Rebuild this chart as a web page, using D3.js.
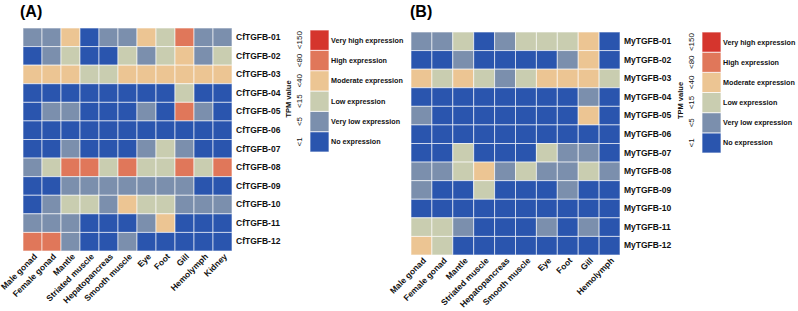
<!DOCTYPE html>
<html>
<head>
<meta charset="utf-8">
<script src="https://cdn.jsdelivr.net/npm/d3@7"></script>
<style>
  body { margin: 0; background: #fff; }
  svg { font-family: "Liberation Sans", Arial, sans-serif; }
</style>
</head>
<body>
<svg id="chart" width="798" height="311"></svg>
<script>
// tissues (columns)
const tissuesA = ["Male gonad", "Female gonad", "Mantle", "Striated muscle", "Hepatopancreas",
  "Smooth muscle", "Eye", "Foot", "Gill", "Hemolymph", "Kidney"];
const tissuesB = ["Male gonad", "Female gonad", "Mantle", "Striated muscle", "Hepatopancreas",
  "Smooth muscle", "Eye", "Foot", "Gill", "Hemolymph"];

// genes (rows)
const genesA = ["CfTGFB-01", "CfTGFB-02", "CfTGFB-03", "CfTGFB-04", "CfTGFB-05", "CfTGFB-06",
  "CfTGFB-07", "CfTGFB-08", "CfTGFB-09", "CfTGFB-10", "CfTGFB-11", "CfTGFB-12"];
const genesB = ["MyTGFB-01", "MyTGFB-02", "MyTGFB-03", "MyTGFB-04", "MyTGFB-05", "MyTGFB-06",
  "MyTGFB-07", "MyTGFB-08", "MyTGFB-09", "MyTGFB-10", "MyTGFB-11", "MyTGFB-12"];

// expression class per cell: 0 = no ... 5 = very high
const levelsA = [
  [1, 1, 3, 0, 1, 1, 3, 2, 4, 1, 1],
  [0, 1, 2, 0, 0, 2, 1, 2, 3, 1, 2],
  [3, 3, 3, 2, 2, 3, 3, 3, 3, 3, 3],
  [0, 0, 0, 0, 0, 0, 0, 0, 2, 0, 0],
  [0, 1, 1, 0, 0, 0, 1, 0, 4, 1, 0],
  [0, 0, 0, 0, 0, 0, 0, 0, 0, 0, 0],
  [0, 0, 1, 0, 0, 0, 1, 2, 1, 0, 0],
  [1, 2, 4, 4, 2, 4, 2, 2, 4, 2, 4],
  [0, 0, 1, 1, 1, 1, 1, 1, 1, 0, 0],
  [0, 1, 2, 2, 1, 3, 2, 2, 1, 1, 1],
  [1, 1, 1, 0, 0, 0, 1, 3, 0, 0, 0],
  [4, 4, 1, 0, 0, 1, 0, 0, 0, 0, 0]
];
const levelsB = [
  [1, 1, 2, 0, 1, 2, 2, 2, 3, 0],
  [0, 0, 1, 0, 0, 0, 0, 1, 3, 0],
  [3, 2, 3, 2, 1, 2, 3, 3, 3, 2],
  [0, 0, 0, 0, 0, 0, 0, 0, 1, 0],
  [1, 0, 0, 0, 0, 0, 0, 0, 3, 0],
  [0, 0, 0, 0, 0, 0, 0, 0, 0, 0],
  [0, 0, 2, 0, 0, 0, 2, 1, 1, 0],
  [1, 1, 2, 3, 1, 2, 1, 1, 2, 1],
  [1, 0, 0, 2, 0, 0, 0, 1, 0, 0],
  [0, 0, 0, 0, 0, 0, 0, 0, 0, 0],
  [2, 2, 1, 0, 0, 0, 1, 0, 1, 0],
  [3, 2, 0, 0, 0, 0, 0, 0, 0, 0]
];

// legend
const levelNames = ["No expression", "Very low expression", "Low expression",
  "Moderate expression", "High expression", "Very high expression"];
const tpmTicks = ["<1", "<5", "<15", "<40", "<80", "<150"];
const levelColors = ["#2a55ae", "#7b8fad", "#c9cdb0", "#ecc593", "#e0775a", "#d5352d"];

const svg = d3.select("#chart");
const color = d3.scaleOrdinal().domain(d3.range(6)).range(levelColors);

function drawPanel(opts) {
  let g = svg.append("g");

  let x = d3.scaleBand().domain(opts.cols).range([opts.x0, opts.x1]);
  let y = d3.scaleBand().domain(opts.rows).range([opts.y0, opts.y1]);

  // panel letter
  g.append("text")
    .attr("x", opts.titleX)
    .attr("y", 17)
    .attr("font-size", 16)
    .attr("font-weight", "bold")
    .text(opts.title);

  // cells
  let cells = [];
  opts.levels.forEach((row, i) => {
    row.forEach((v, j) => cells.push({ gene: opts.rows[i], tissue: opts.cols[j], v: v }));
  });
  g.selectAll("rect.cell")
    .data(cells)
    .enter()
    .append("rect")
    .attr("class", "cell")
    .attr("x", d => x(d.tissue))
    .attr("y", d => y(d.gene))
    .attr("width", x.bandwidth())
    .attr("height", y.bandwidth())
    .attr("fill", d => color(d.v))
    .attr("stroke", "rgba(255,255,255,0.6)")
    .attr("stroke-width", 1);

  // row labels
  let rowAxis = g.append("g")
    .attr("transform", `translate(${opts.x1},0)`)
    .call(d3.axisRight(y).tickSize(0).tickPadding(4));
  rowAxis.select(".domain").remove();
  rowAxis.selectAll("text")
    .attr("font-size", 8.5)
    .attr("font-weight", "bold")
    .attr("font-family", "Liberation Sans, Arial, sans-serif")
    .attr("fill", "#111");

  // column labels
  let colAxis = g.append("g")
    .attr("transform", `translate(0,${opts.y1})`)
    .call(d3.axisBottom(x).tickSize(0));
  colAxis.select(".domain").remove();
  colAxis.selectAll("text")
    .attr("x", 0)
    .attr("y", 0)
    .attr("dy", "0.35em")
    .attr("text-anchor", "end")
    .attr("transform", "translate(3,4) rotate(-45)")
    .attr("font-size", 8.5)
    .attr("font-weight", "bold")
    .attr("font-family", "Liberation Sans, Arial, sans-serif")
    .attr("fill", "#111");

  // legend
  let ly = d3.scaleBand().domain(d3.range(5, -1, -1)).range([opts.legY0, opts.legY1]);
  let lg = g.append("g");
  lg.selectAll("rect")
    .data(d3.range(6))
    .enter()
    .append("rect")
    .attr("x", opts.legX)
    .attr("y", d => ly(d))
    .attr("width", opts.legW)
    .attr("height", ly.bandwidth())
    .attr("fill", d => color(d))
    .attr("stroke", "rgba(255,255,255,0.7)")
    .attr("stroke-width", 1);

  lg.selectAll("text.lname")
    .data(d3.range(6))
    .enter()
    .append("text")
    .attr("class", "lname")
    .attr("x", opts.legX + opts.legW + 2)
    .attr("y", d => ly(d) + ly.bandwidth() / 2)
    .attr("dy", "0.35em")
    .attr("font-size", 7.2)
    .attr("font-weight", "bold")
    .attr("fill", "#111")
    .text(d => levelNames[d]);

  lg.selectAll("text.tick")
    .data(d3.range(6))
    .enter()
    .append("text")
    .attr("class", "tick")
    .attr("text-anchor", "middle")
    .attr("transform", d => `translate(${opts.legX - 8},${ly(d) + ly.bandwidth() / 2}) rotate(-90)`)
    .attr("font-size", 8)
    .attr("fill", "#111")
    .text(d => tpmTicks[d]);

  lg.append("text")
    .attr("text-anchor", "middle")
    .attr("transform", `translate(${opts.legX - 19},${(opts.legY0 + opts.legY1) / 2 + 8}) rotate(-90)`)
    .attr("font-size", 7.5)
    .attr("font-weight", "bold")
    .attr("fill", "#111")
    .text("TPM value");
}

drawPanel({
  title: "(A)", titleX: 20,
  cols: tissuesA, rows: genesA, levels: levelsA,
  x0: 23, x1: 232, y0: 28, y1: 251,
  legX: 310, legW: 19, legY0: 30, legY1: 152
});

drawPanel({
  title: "(B)", titleX: 410,
  cols: tissuesB, rows: genesB, levels: levelsB,
  x0: 411, x1: 620, y0: 32, y1: 255,
  legX: 702, legW: 19, legY0: 32, legY1: 153
});
</script>
</body>
</html>
